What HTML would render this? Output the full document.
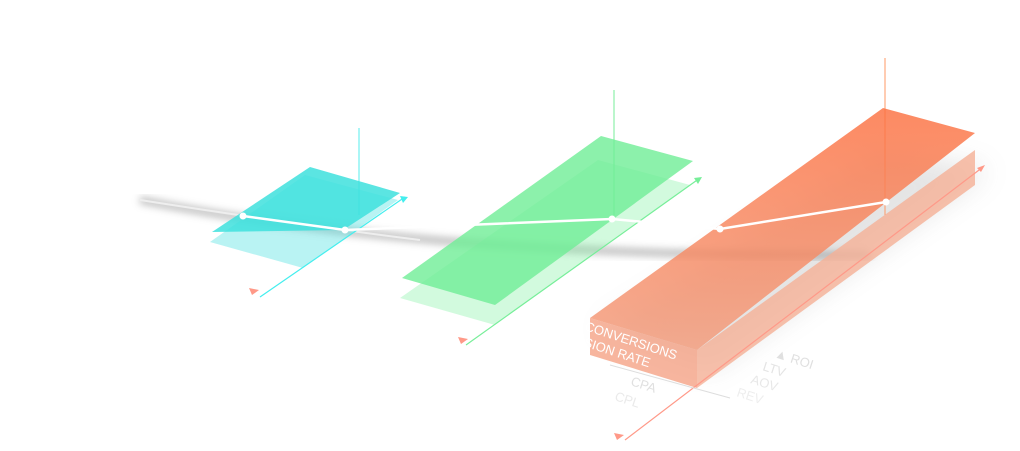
<!DOCTYPE html>
<html><head><style>
html,body{margin:0;padding:0;background:#fff;width:1020px;height:451px;overflow:hidden}
svg{display:block}
text{font-family:"Liberation Sans",sans-serif}
</style></head><body>
<svg width="1020" height="451" viewBox="0 0 1020 451">
<defs>
<filter id="b4"><feGaussianBlur stdDeviation="4"/></filter>
<filter id="b12"><feGaussianBlur stdDeviation="14"/></filter>
<linearGradient id="og" x1="0" y1="0" x2="0" y2="1"><stop offset="0" stop-color="#fc7040"/><stop offset="1" stop-color="#f39c7c"/></linearGradient>
</defs>
<polygon points="600,330 710,370 990,170 880,150" fill="#888" opacity="0.22" filter="url(#b12)"/>
<path d="M140,200 Q 430,258 870,255" stroke="#777" stroke-width="7" fill="none" opacity="0.5" filter="url(#b4)"/>
<path d="M140,200 Q 300,225 420,240" stroke="#eee" stroke-width="2" fill="none"/>

<!-- cyan -->
<line x1="359" y1="128" x2="359" y2="215" stroke="#5ee" stroke-width="1"/>
<polygon points="210,242 303,268 398,200 305,175" fill="#4fe0e0" opacity="0.4"/>
<polygon points="310,167 400,193 343,230 212,232" fill="#3ee0dd" opacity="0.85"/>
<line x1="405" y1="197" x2="260" y2="297" stroke="#4ee" stroke-width="1.2"/>
<polygon points="400,196 408,197 403,203" fill="#4ee"/>
<polygon points="249,288 259,290 252,295" fill="#f98"/>

<!-- green -->
<line x1="614" y1="90" x2="614" y2="215" stroke="#7e9" stroke-width="1"/>
<polygon points="400,298 495,325 690,185 598,160" fill="#7ef0a0" opacity="0.35"/>
<polygon points="601,136 693,161 495,305 402,278" fill="#6fee96" opacity="0.8"/>
<line x1="700" y1="178" x2="466" y2="345" stroke="#7e9" stroke-width="1.2"/>
<polygon points="694,178 702,177 698,184" fill="#7e9"/>
<polygon points="458,337 468,339 461,344" fill="#f98"/>

<!-- orange -->
<line x1="885" y1="58" x2="885" y2="215" stroke="#f96" stroke-width="1"/>
<polygon points="590,318 697,350 697,388 590,355" fill="#f5a386" opacity="0.8"/>
<polygon points="697,350 975,150 975,185 697,388" fill="#f5b096" opacity="0.8"/>
<polygon points="883,108 975,133 697,350 590,318" fill="url(#og)" opacity="0.82"/>
<line x1="983" y1="167" x2="625" y2="440" stroke="#f98" stroke-width="1.2"/>
<polygon points="977,168 985,165 981,172" fill="#f98"/>
<polygon points="614,433 624,435 617,440" fill="#f98"/>
<line x1="610" y1="365" x2="730" y2="398" stroke="#ddd" stroke-width="1"/>

<polyline points="243,216 345,230 612,219 720,229 886,202" fill="none" stroke="#fff" stroke-width="2.5"/>
<g fill="#fff"><circle cx="243" cy="216" r="3.5"/><circle cx="345" cy="230" r="3.5"/><circle cx="612" cy="219" r="3.5"/><circle cx="720" cy="229" r="3.5"/><circle cx="886" cy="202" r="3.5"/></g>

<g transform="translate(584,330) rotate(18)"><text font-size="13" fill="#fff">CONVERSIONS</text></g>
<g transform="translate(574,343) rotate(18)"><text font-size="13" fill="#fff">RSION RATE</text></g>
<g transform="translate(630,385) rotate(18)"><text font-size="13" fill="#e0e0e0">CPA</text></g>
<g transform="translate(614,400) rotate(18)"><text font-size="13" fill="#eaeaea">CPL</text></g>
<g transform="translate(774,357) rotate(18)"><text font-size="13" fill="#e0e0e0">▲ ROI</text></g>
<g transform="translate(762,370) rotate(18)"><text font-size="13" fill="#e4e4e4">LTV</text></g>
<g transform="translate(750,383) rotate(18)"><text font-size="13" fill="#e8e8e8">AOV</text></g>
<g transform="translate(736,396) rotate(18)"><text font-size="13" fill="#eeeeee">REV</text></g>
</svg>
</body></html>
